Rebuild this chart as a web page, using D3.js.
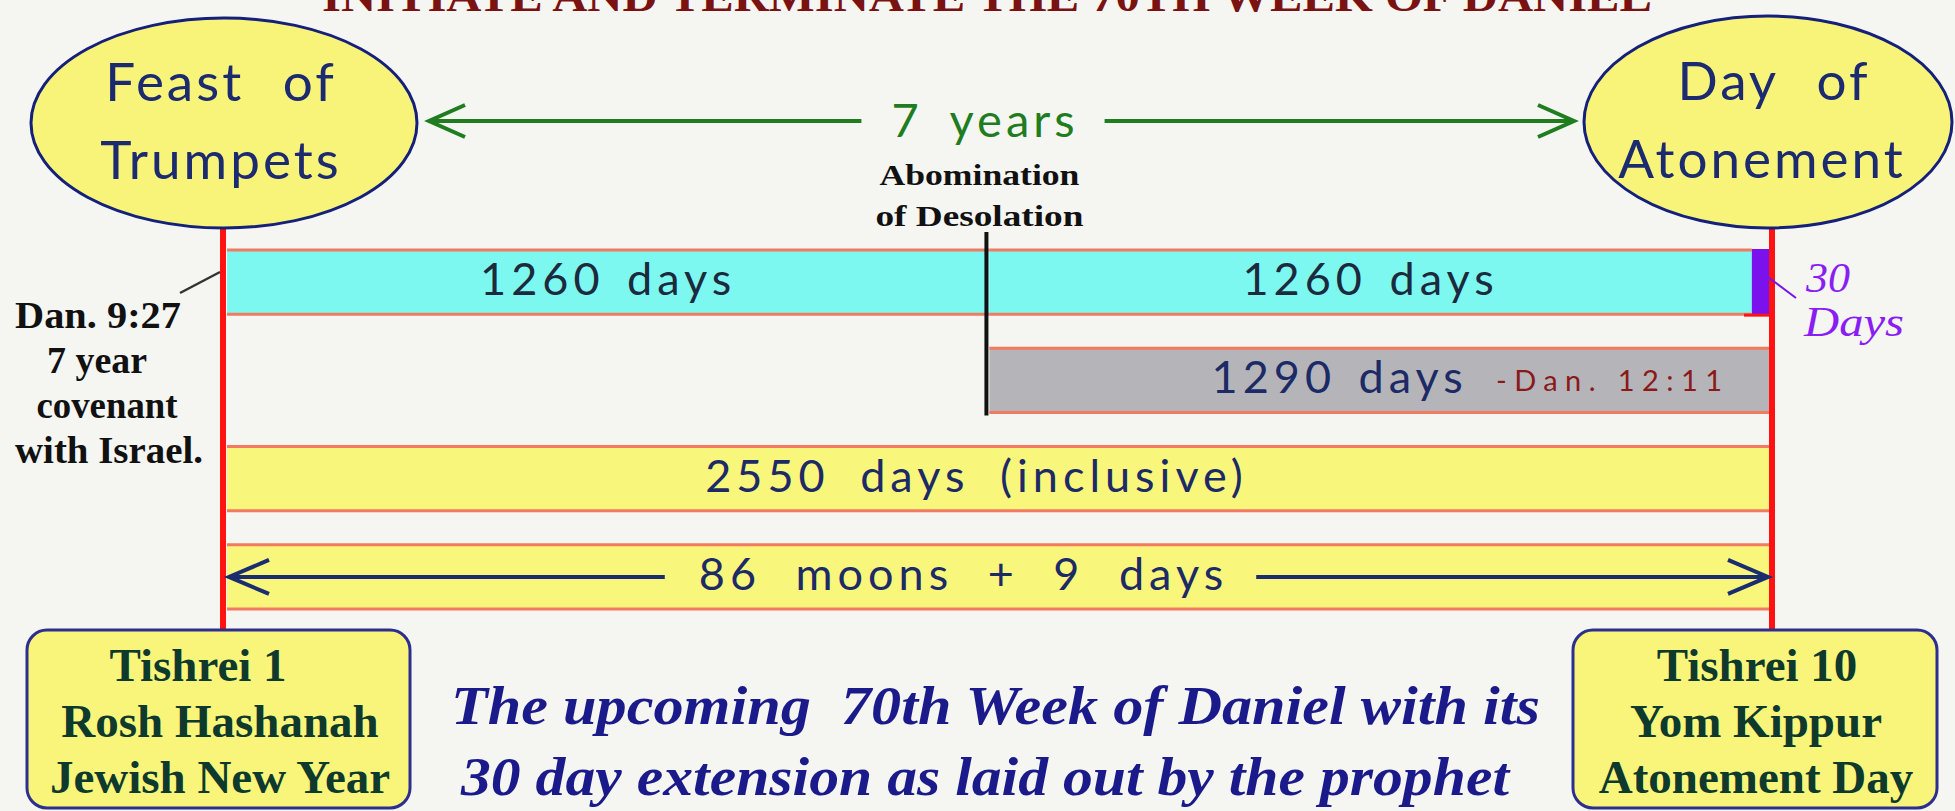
<!DOCTYPE html>
<html lang="en">
<head>
<meta charset="UTF-8">
<script src="https://d3js.org/d3.v7.min.js"></script>
<style>
  body { margin: 0; background: #f5f5f2; overflow: hidden; }
  svg { display: block; }
  .hand { font-family: Lato, "Noto Sans", sans-serif; }
  .serif { font-family: "Liberation Serif", "DejaVu Serif", serif; }
</style>
</head>
<body>
<div id="visualization"></div>
<script>
// timeline segments, counted in days from Tishrei 1
const segLabels = ["1260 days", "1260 days", "", "1290 days", "2550 days (inclusive)", "86 moons + 9 days"];
const segKinds = ["half", "half", "extension", "abomination", "inclusive", "moons"];
const segStarts = [0, 1260, 2520, 1260, 0, 0];
const segDays = [1260, 1260, 30, 1290, 2550, 2550];
const segRows = ["tribulation", "tribulation", "tribulation", "abomination", "inclusive", "moons"];
const rowNames = ["tribulation", "abomination", "inclusive", "moons"];
const totalDays = 2550;
const midpointDay = 1260;

// text
const titleText = "INITIATE AND TERMINATE THE 70TH WEEK OF DANIEL";
const startFeast = ["Feast of", "Trumpets"];
const endFeast = ["Day of", "Atonement"];
const startDate = ["Tishrei 1", "Rosh Hashanah", "Jewish New Year"];
const endDate = ["Tishrei 10", "Yom Kippur", "Atonement Day"];
const spanLabel = "7 years";
const abominationLabel = ["Abomination", "of Desolation"];
const covenantNote = ["Dan. 9:27", "7 year", "covenant", "with Israel."];
const gapNote = "-Dan. 12:11";
const extensionNote = ["30", "Days"];
const footnote = ["The upcoming  70th Week of Daniel with its", "30 day extension as laid out by the prophet"];

const W = 1955, H = 811;

const fillFor = d3.scaleOrdinal()
    .domain(["half", "extension", "abomination", "inclusive", "moons"])
    .range(["#7cf8f1", "#7b12ee", "#b5b5b9", "#f9f67c", "#f9f67c"]);
// label nudges (px) so text sits like the original
const labelShift = { half: 0, abomination: -40, inclusive: -22, moons: -35, extension: 0 };
const labelWordGap = { half: 6, abomination: 6, inclusive: 14, moons: 18, extension: 0 };

const svg = d3.select('#visualization').append('svg')
    .attr('width', W)
    .attr('height', H);

svg.append('rect').attr('width', W).attr('height', H).attr('fill', '#f5f5f2');

const x = d3.scaleLinear().domain([0, totalDays]).range([227, 1770]);
const y = d3.scaleBand().domain(rowNames).range([249, 610]).paddingInner(0.327).paddingOuter(0);

const leftX = x(0) - 4, rightX = x(totalDays) + 2;

// title (cut off at the top in the original)
svg.append('text')
    .attr('class', 'serif')
    .attr('x', 987).attr('y', 11)
    .attr('text-anchor', 'middle')
    .attr('font-size', 45).attr('font-weight', 'bold')
    .attr('fill', '#7a1212')
    .attr('textLength', 1330).attr('lengthAdjust', 'spacingAndGlyphs')
    .text(titleText);

// bars
const segs = segLabels.map((label, i) => ({
    label, kind: segKinds[i], start: segStarts[i], days: segDays[i], row: segRows[i]
}));

const bars = svg.append('g');
bars.selectAll('rect')
    .data(segs)
    .enter().append('rect')
    .attr('x', d => x(d.start))
    .attr('y', d => y(d.row))
    .attr('width', d => x(d.start + d.days) - x(d.start))
    .attr('height', y.bandwidth())
    .attr('fill', d => fillFor(d.kind));

// salmon borders on top and bottom of each bar
['top', 'bottom'].forEach(side => {
    bars.selectAll('line.' + side)
        .data(segs.filter(d => d.kind !== 'extension'))
        .enter().append('line')
        .attr('class', side)
        .attr('x1', d => x(d.start))
        .attr('x2', d => x(d.start + d.days))
        .attr('y1', d => y(d.row) + (side === 'top' ? 1 : y.bandwidth() - 1))
        .attr('y2', d => y(d.row) + (side === 'top' ? 1 : y.bandwidth() - 1))
        .attr('stroke', '#f27a60')
        .attr('stroke-width', 3);
});

// bar labels
const labels = svg.append('g').attr('class', 'hand');
labels.selectAll('text')
    .data(segs.filter(d => d.label))
    .enter().append('text')
    .attr('x', d => (x(d.start) + x(d.start + d.days)) / 2 + labelShift[d.kind])
    .attr('y', d => y(d.row) + y.bandwidth() / 2 + 13)
    .attr('text-anchor', 'middle')
    .attr('font-size', 45)
    .attr('letter-spacing', 5)
    .attr('word-spacing', d => labelWordGap[d.kind])
    .attr('fill', d => d.kind === 'half' ? '#1b2a3c' : '#1c2a66')
    .text(d => d.label);

// abomination marker
svg.append('line')
    .attr('x1', x(midpointDay) - 3).attr('x2', x(midpointDay) - 3)
    .attr('y1', 232).attr('y2', y('abomination') + y.bandwidth() + 2)
    .attr('stroke', '#111').attr('stroke-width', 4);

svg.append('g').attr('class', 'serif')
    .selectAll('text').data(abominationLabel).enter().append('text')
    .attr('x', x(midpointDay) - 10)
    .attr('y', (d, i) => 185 + i * 41)
    .attr('text-anchor', 'middle')
    .attr('font-size', 30).attr('font-weight', 'bold')
    .attr('fill', '#111')
    .attr('textLength', (d, i) => i === 0 ? 200 : 208)
    .attr('lengthAdjust', 'spacingAndGlyphs')
    .text(d => d);

// Dan. 12:11 note inside the grey bar
svg.append('text')
    .attr('class', 'hand')
    .attr('x', 1496).attr('y', y('abomination') + y.bandwidth() / 2 + 11)
    .attr('font-size', 29)
    .attr('fill', '#8a1a1a')
    .attr('textLength', 226).attr('lengthAdjust', 'spacing')
    .text(gapNote);

// red boundary lines
[leftX, rightX].forEach(px => {
    svg.append('line')
        .attr('x1', px).attr('x2', px)
        .attr('y1', 228).attr('y2', 630)
        .attr('stroke', '#ff1212').attr('stroke-width', 6);
});
svg.append('line')
    .attr('x1', x(totalDays) - 26).attr('x2', rightX)
    .attr('y1', y('tribulation') + y.bandwidth()).attr('y2', y('tribulation') + y.bandwidth())
    .attr('stroke', '#ff1212').attr('stroke-width', 3);

// moons arrow
const moonY = y('moons') + y.bandwidth() / 2;
const moonText = labels.selectAll('text').filter(d => d.kind === 'moons').node().getBBox();
const navy = '#1a2d6e';
svg.append('line').attr('x1', x(0) + 2).attr('x2', moonText.x - 34)
    .attr('y1', moonY).attr('y2', moonY).attr('stroke', navy).attr('stroke-width', 4);
svg.append('line').attr('x1', moonText.x + moonText.width + 28).attr('x2', x(totalDays) - 2)
    .attr('y1', moonY).attr('y2', moonY).attr('stroke', navy).attr('stroke-width', 4);
svg.append('path')
    .attr('d', `M${x(0) + 42},${moonY - 17} L${x(0) + 2},${moonY} L${x(0) + 42},${moonY + 17}`)
    .attr('fill', 'none').attr('stroke', navy).attr('stroke-width', 4);
svg.append('path')
    .attr('d', `M${x(totalDays) - 42},${moonY - 17} L${x(totalDays) - 2},${moonY} L${x(totalDays) - 42},${moonY + 17}`)
    .attr('fill', 'none').attr('stroke', navy).attr('stroke-width', 4);

// feast ellipses
const ellipses = [
    { cx: leftX + 1, cy: 123, rx: 193, ry: 105, lines: startFeast, tx: leftX - 2 },
    { cx: rightX - 4, cy: 122, rx: 184, ry: 106, lines: endFeast, tx: rightX - 10 }
];
ellipses.forEach(e => {
    svg.append('ellipse')
        .attr('cx', e.cx).attr('cy', e.cy).attr('rx', e.rx).attr('ry', e.ry)
        .attr('fill', '#f8f47a').attr('stroke', '#14207a').attr('stroke-width', 3);
    svg.append('g').attr('class', 'hand')
        .selectAll('text').data(e.lines).enter().append('text')
        .attr('x', (d, i) => i === 0 && e.lines === endFeast ? e.tx + 12 : e.tx)
        .attr('y', (d, i) => e.cy - 22 + i * 78)
        .attr('text-anchor', 'middle')
        .attr('font-size', 53)
        .attr('letter-spacing', 3)
        .attr('word-spacing', 22)
        .attr('fill', '#1c2a70')
        .text(d => d);
});

// 7 years arrow
const green = '#1f7d1f';
const yearsY = 121;
const yearsText = svg.append('text')
    .attr('class', 'hand')
    .attr('x', 985).attr('y', yearsY + 16)
    .attr('text-anchor', 'middle')
    .attr('font-size', 47).attr('letter-spacing', 4).attr('word-spacing', 12)
    .attr('fill', green)
    .text(spanLabel);
const yb = yearsText.node().getBBox();
const gL = ellipses[0].cx + ellipses[0].rx + 12, gR = ellipses[1].cx - ellipses[1].rx - 10;
svg.append('line').attr('x1', gL).attr('x2', yb.x - 30).attr('y1', yearsY).attr('y2', yearsY)
    .attr('stroke', green).attr('stroke-width', 4);
svg.append('line').attr('x1', yb.x + yb.width + 26).attr('x2', gR).attr('y1', yearsY).attr('y2', yearsY)
    .attr('stroke', green).attr('stroke-width', 4);
svg.append('path').attr('d', `M${gL + 36},${yearsY - 16} L${gL},${yearsY} L${gL + 36},${yearsY + 16}`)
    .attr('fill', 'none').attr('stroke', green).attr('stroke-width', 4);
svg.append('path').attr('d', `M${gR - 36},${yearsY - 16} L${gR},${yearsY} L${gR - 36},${yearsY + 16}`)
    .attr('fill', 'none').attr('stroke', green).attr('stroke-width', 4);

// covenant note on the left
svg.append('line')
    .attr('x1', 180).attr('y1', 293).attr('x2', leftX - 3).attr('y2', 272)
    .attr('stroke', '#333').attr('stroke-width', 2.5);
svg.append('g').attr('class', 'serif')
    .selectAll('text').data(covenantNote).enter().append('text')
    .attr('x', (d, i) => [98, 97, 107, 109][i])
    .attr('y', (d, i) => 328 + i * 45)
    .attr('text-anchor', 'middle')
    .attr('font-size', 37).attr('font-weight', 'bold')
    .attr('fill', '#111')
    .attr('textLength', (d, i) => [166, 100, 141, 188][i])
    .attr('lengthAdjust', 'spacingAndGlyphs')
    .text(d => d);

// 30 day extension note
svg.append('line')
    .attr('x1', x(totalDays) - 2).attr('y1', 277).attr('x2', 1796).attr('y2', 298)
    .attr('stroke', '#7b12ee').attr('stroke-width', 2);
svg.append('g').attr('class', 'serif')
    .selectAll('text').data(extensionNote).enter().append('text')
    .attr('x', (d, i) => i === 0 ? 1806 : 1804)
    .attr('y', (d, i) => 292 + i * 44)
    .attr('font-size', 43).attr('font-style', 'italic')
    .attr('fill', '#8a1ef2')
    .attr('textLength', (d, i) => i === 0 ? 44 : 100)
    .attr('lengthAdjust', 'spacingAndGlyphs')
    .text(d => d);

// date boxes at the bottom
const boxes = [
    { x: 27, w: 383, lines: startDate, cx: 220, first: 198 },
    { x: 1573, w: 364, lines: endDate, cx: 1756, first: 1757 }
];
boxes.forEach(b => {
    svg.append('rect')
        .attr('x', b.x).attr('y', 630).attr('width', b.w).attr('height', 178)
        .attr('rx', 20).attr('ry', 20)
        .attr('fill', '#f8f57a').attr('stroke', '#2c2f8e').attr('stroke-width', 3);
    svg.append('g').attr('class', 'serif')
        .selectAll('text').data(b.lines).enter().append('text')
        .attr('x', (d, i) => i === 0 ? b.first : b.cx)
        .attr('y', (d, i) => 681 + i * 56)
        .attr('text-anchor', 'middle')
        .attr('font-size', 47).attr('font-weight', 'bold')
        .attr('fill', '#0e3a2e')
        .text(d => d);
});

// footnote
svg.append('g').attr('class', 'serif')
    .selectAll('text').data(footnote).enter().append('text')
    .attr('x', (d, i) => i === 0 ? 451 : 461)
    .attr('y', (d, i) => 724 + i * 71)
    .attr('font-size', 55).attr('font-weight', 'bold').attr('font-style', 'italic')
    .attr('fill', '#1b1a8a')
    .attr('style', 'white-space: pre')
    .attr('textLength', (d, i) => i === 0 ? 1089 : 1048)
    .attr('lengthAdjust', 'spacingAndGlyphs')
    .text(d => d);
</script>
</body>
</html>
